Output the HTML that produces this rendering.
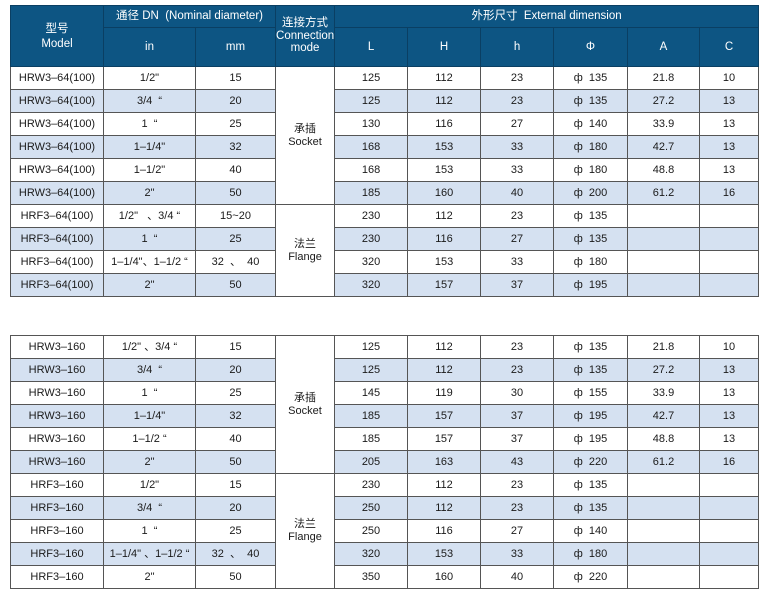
<!DOCTYPE html>
<html><head><meta charset="utf-8">
<style>
html,body{margin:0;padding:0;background:#fff;width:765px;height:595px;overflow:hidden;position:relative;}
table{position:absolute;left:10px;border-collapse:collapse;table-layout:fixed;width:748px;
font-family:"Liberation Sans","Noto Sans CJK SC",sans-serif;font-size:11px;color:#1a1a1a;}
td{border:1px solid #555;text-align:center;vertical-align:middle;padding:0;white-space:nowrap;overflow:hidden;line-height:12px;}
tr.d{height:23px;}
tr.b td{background:#d5e1f1;}
tr.b td.m,td.m{background:#fff;}
td.m{line-height:13px;}
thead td{background:#0d5583;color:#fff;border-color:#0a3f63;font-size:11.5px;line-height:13px;}
thead td.mo{line-height:15px;padding-top:2px;}
thead td.cm{line-height:12.5px;}
</style></head><body>
<table style="top:5px">
<colgroup><col style="width:93px"><col style="width:92px"><col style="width:80px"><col style="width:59px"><col style="width:73px"><col style="width:73px"><col style="width:73px"><col style="width:74px"><col style="width:72px"><col style="width:59px"></colgroup>
<thead>
<tr style="height:22px"><td class="mo" rowspan="2">型号<br>Model</td><td colspan="2">通径 DN&nbsp; (Nominal diameter)</td><td class="cm" rowspan="2">连接方式<br>Connection<br>mode</td><td colspan="6">外形尺寸&nbsp; External dimension</td></tr>
<tr style="height:39px"><td>in</td><td>mm</td><td>L</td><td>H</td><td>h</td><td>Φ</td><td>A</td><td>C</td></tr>
</thead>
<tbody>
<tr class="d"><td>HRW3–64(100)</td><td>1/2"</td><td>15</td><td class="m" rowspan="6">承插<br>Socket</td><td>125</td><td>112</td><td>23</td><td>ф&nbsp; 135</td><td>21.8</td><td>10</td></tr>
<tr class="d b"><td>HRW3–64(100)</td><td>3/4&nbsp; “</td><td>20</td><td>125</td><td>112</td><td>23</td><td>ф&nbsp; 135</td><td>27.2</td><td>13</td></tr>
<tr class="d"><td>HRW3–64(100)</td><td>1&nbsp; “</td><td>25</td><td>130</td><td>116</td><td>27</td><td>ф&nbsp; 140</td><td>33.9</td><td>13</td></tr>
<tr class="d b"><td>HRW3–64(100)</td><td>1–1/4"</td><td>32</td><td>168</td><td>153</td><td>33</td><td>ф&nbsp; 180</td><td>42.7</td><td>13</td></tr>
<tr class="d"><td>HRW3–64(100)</td><td>1–1/2"</td><td>40</td><td>168</td><td>153</td><td>33</td><td>ф&nbsp; 180</td><td>48.8</td><td>13</td></tr>
<tr class="d b"><td>HRW3–64(100)</td><td>2"</td><td>50</td><td>185</td><td>160</td><td>40</td><td>ф&nbsp; 200</td><td>61.2</td><td>16</td></tr>
<tr class="d"><td>HRF3–64(100)</td><td>1/2"&nbsp;&nbsp; 、3/4 “</td><td>15~20</td><td class="m" rowspan="4">法兰<br>Flange</td><td>230</td><td>112</td><td>23</td><td>ф&nbsp; 135</td><td></td><td></td></tr>
<tr class="d b"><td>HRF3–64(100)</td><td>1&nbsp; “</td><td>25</td><td>230</td><td>116</td><td>27</td><td>ф&nbsp; 135</td><td></td><td></td></tr>
<tr class="d"><td>HRF3–64(100)</td><td>1–1/4"、1–1/2 “</td><td>32&nbsp; 、&nbsp; 40</td><td>320</td><td>153</td><td>33</td><td>ф&nbsp; 180</td><td></td><td></td></tr>
<tr class="d b"><td>HRF3–64(100)</td><td>2"</td><td>50</td><td>320</td><td>157</td><td>37</td><td>ф&nbsp; 195</td><td></td><td></td></tr>
</tbody>
</table>

<table style="top:335px">
<colgroup><col style="width:93px"><col style="width:92px"><col style="width:80px"><col style="width:59px"><col style="width:73px"><col style="width:73px"><col style="width:73px"><col style="width:74px"><col style="width:72px"><col style="width:59px"></colgroup>
<tbody>
<tr class="d"><td>HRW3–160</td><td>1/2" 、3/4 “</td><td>15</td><td class="m" rowspan="6">承插<br>Socket</td><td>125</td><td>112</td><td>23</td><td>ф&nbsp; 135</td><td>21.8</td><td>10</td></tr>
<tr class="d b"><td>HRW3–160</td><td>3/4&nbsp; “</td><td>20</td><td>125</td><td>112</td><td>23</td><td>ф&nbsp; 135</td><td>27.2</td><td>13</td></tr>
<tr class="d"><td>HRW3–160</td><td>1&nbsp; “</td><td>25</td><td>145</td><td>119</td><td>30</td><td>ф&nbsp; 155</td><td>33.9</td><td>13</td></tr>
<tr class="d b"><td>HRW3–160</td><td>1–1/4"</td><td>32</td><td>185</td><td>157</td><td>37</td><td>ф&nbsp; 195</td><td>42.7</td><td>13</td></tr>
<tr class="d"><td>HRW3–160</td><td>1–1/2 “</td><td>40</td><td>185</td><td>157</td><td>37</td><td>ф&nbsp; 195</td><td>48.8</td><td>13</td></tr>
<tr class="d b"><td>HRW3–160</td><td>2"</td><td>50</td><td>205</td><td>163</td><td>43</td><td>ф&nbsp; 220</td><td>61.2</td><td>16</td></tr>
<tr class="d"><td>HRF3–160</td><td>1/2"</td><td>15</td><td class="m" rowspan="5">法兰<br>Flange</td><td>230</td><td>112</td><td>23</td><td>ф&nbsp; 135</td><td></td><td></td></tr>
<tr class="d b"><td>HRF3–160</td><td>3/4&nbsp; “</td><td>20</td><td>250</td><td>112</td><td>23</td><td>ф&nbsp; 135</td><td></td><td></td></tr>
<tr class="d"><td>HRF3–160</td><td>1&nbsp; “</td><td>25</td><td>250</td><td>116</td><td>27</td><td>ф&nbsp; 140</td><td></td><td></td></tr>
<tr class="d b"><td>HRF3–160</td><td>1–1/4" 、1–1/2 “</td><td>32&nbsp; 、&nbsp; 40</td><td>320</td><td>153</td><td>33</td><td>ф&nbsp; 180</td><td></td><td></td></tr>
<tr class="d"><td>HRF3–160</td><td>2"</td><td>50</td><td>350</td><td>160</td><td>40</td><td>ф&nbsp; 220</td><td></td><td></td></tr>
</tbody>
</table>
</body></html>
